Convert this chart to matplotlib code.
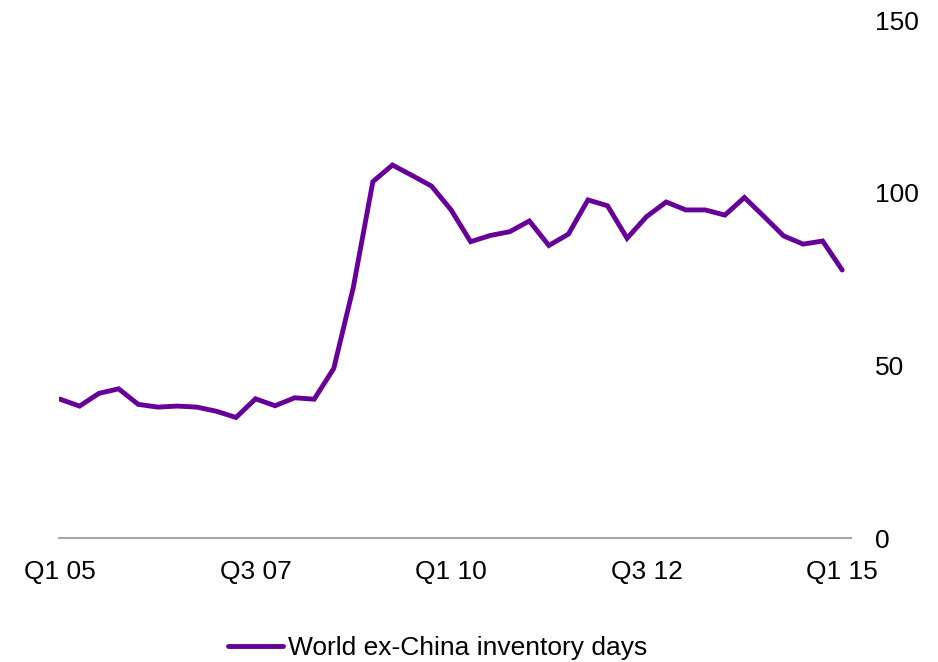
import matplotlib
matplotlib.use("Agg")
import matplotlib.pyplot as plt
import numpy as np

plt.rcParams["font.family"] = ["Liberation Sans", "DejaVu Sans"]

# quarterly inventory days, Q1 05 .. Q1 15
quarters = [f"Q{q} {y:02d}" for y in range(5, 16) for q in range(1, 5)][:41]
inventory_days = [40.2, 38.2, 41.9, 43.2, 38.7, 37.9, 38.2, 37.9, 36.7, 34.9,
                  40.3, 38.3, 40.6, 40.2, 49.1, 72.6, 103.2, 108.0, 105.0, 101.9,
                  95.0, 85.8, 87.6, 88.7, 91.8, 84.7, 88.0, 97.9, 96.2, 86.8,
                  93.1, 97.3, 95.0, 95.0, 93.5, 98.6, 93.1, 87.5, 85.1, 86.0,
                  77.6]
tick_labels = ["Q1 05", "Q3 07", "Q1 10", "Q3 12", "Q1 15"]
y_ticks = [0, 50, 100, 150]

fig = plt.figure(figsize=(9.38, 6.62), dpi=100)
ax = fig.add_axes([59 / 938, 1 - 538 / 662, (851 - 59) / 938, (538 - 20) / 662])

x = np.arange(len(inventory_days))
ax.plot(x, inventory_days, color="#660099", lw=3.5, solid_capstyle="round",
        solid_joinstyle="miter", label="World ex-China inventory days")

ax.set_xlim(-0.05, 40.45)
ax.set_ylim(0, 150)
ax.set_xticks([quarters.index(t) for t in tick_labels])
ax.set_xticklabels(tick_labels)
ax.set_yticks(y_ticks)
ax.yaxis.tick_right()

for side in ["top", "left", "right"]:
    ax.spines[side].set_visible(False)
ax.spines["bottom"].set_color("#a6a6a6")
ax.spines["bottom"].set_linewidth(1.5)

ax.tick_params(axis="x", length=0, pad=16, labelsize=19)
ax.tick_params(axis="y", length=0, pad=17, labelsize=19)
for lbl in ax.get_yticklabels():
    lbl.set_horizontalalignment("left")

fig.legend(loc="center", bbox_to_anchor=(437.5 / 938, 1 - 648 / 662),
           frameon=False, fontsize=19, handlelength=2.1, handletextpad=0.2)

fig.savefig("out.png", dpi=100)
